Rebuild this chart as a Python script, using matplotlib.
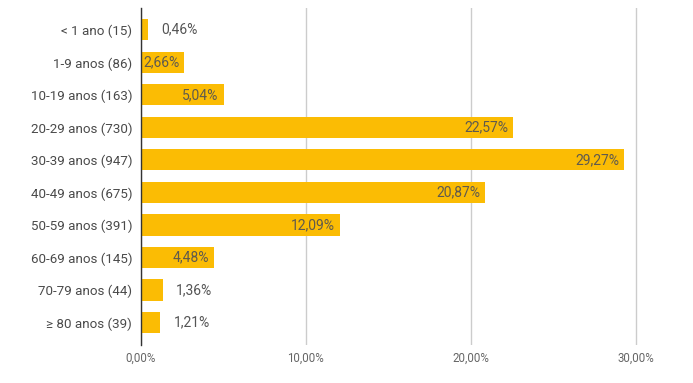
import matplotlib
matplotlib.use("Agg")
import matplotlib.pyplot as plt

# dados (faixa etária e percentual)
categorias = ["< 1 ano (15)", "1-9 anos (86)", "10-19 anos (163)", "20-29 anos (730)",
              "30-39 anos (947)", "40-49 anos (675)", "50-59 anos (391)", "60-69 anos (145)",
              "70-79 anos (44)", "≥ 80 anos (39)"]
percentuais = [0.46, 2.66, 5.04, 22.57, 29.27, 20.87, 12.09, 4.48, 1.36, 1.21]
ticks_x = [0, 10, 20, 30]
ticks_rotulos = ["0,00%", "10,00%", "20,00%", "30,00%"]

plt.rcParams['font.family'] = ['Roboto', 'DejaVu Sans']

W, H = 693, 383
fig = plt.figure(figsize=(W / 100, H / 100), dpi=100)
ax = fig.add_axes([140.5 / W, (H - 345) / H, (650 - 140.5) / W, (345 - 8) / H])

y = list(range(len(categorias)))
ax.barh(y, percentuais, height=0.65, color="#FBBC04", zorder=3)

px_por_unidade = (636 - 140.5) / 30.0
for yi, v in zip(y, percentuais):
    txt = "{:.2f}%".format(v).replace(".", ",")
    if v >= 2.0:
        ax.text(v - 5 / px_por_unidade, yi, txt, ha="right", va="center",
                fontsize=10, color="#5f5a4e", zorder=4)
    else:
        ax.text(v + 13 / px_por_unidade, yi, txt, ha="left", va="center",
                fontsize=10, color="#555555", zorder=4)

ax.set_xlim(0, (650 - 140.5) / px_por_unidade)
ax.set_ylim(9.69, -0.67)
ax.set_yticks(y)
ax.set_yticklabels(categorias, fontsize=9.6, color="#4a4a4a")
ax.set_xticks(ticks_x)
ax.set_xticklabels(ticks_rotulos, fontsize=8.3, color="#666666")
ax.tick_params(axis="both", length=0)
ax.tick_params(axis="y", pad=6)
ax.tick_params(axis="x", pad=5)

ax.grid(axis="x", color="#cccccc", linewidth=1, zorder=0)
for s in ["top", "right", "bottom"]:
    ax.spines[s].set_visible(False)
ax.spines["left"].set_color("#333333")
ax.spines["left"].set_linewidth(1)
ax.spines["left"].set_zorder(5)

fig.savefig("out.png", dpi=100)
